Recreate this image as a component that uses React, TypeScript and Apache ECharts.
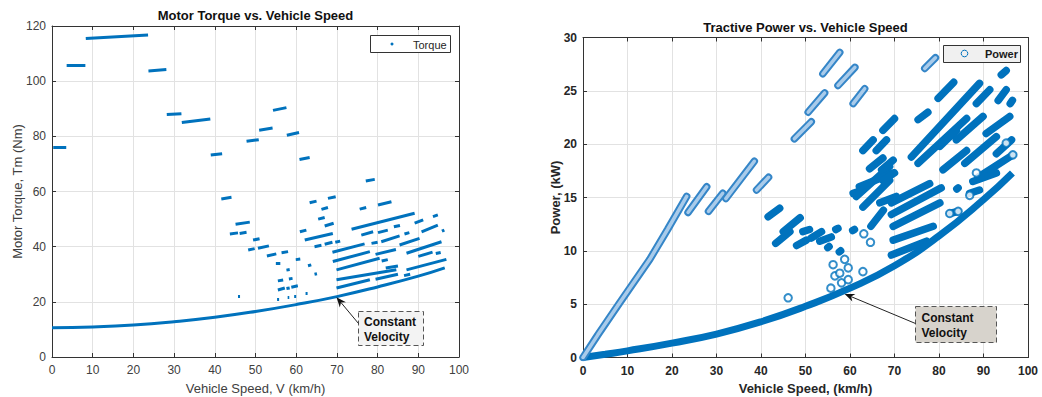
import React, { useEffect, useRef } from "react";
import * as echarts from "echarts";

// ---------------- DATA ----------------
// Left chart: motor torque (Nm) vs vehicle speed (km/h)
const torqueCurve: [number, number][] = [
  [0, 10.6], [10, 10.9], [20, 11.6], [30, 12.8], [40, 14.4], [50, 16.5],
  [60, 19.0], [70, 21.9], [80, 25.4], [90, 29.3], [96.5, 32.3],
];
// segments: [v1, T1, v2, T2]
const torqueSegments: [number, number, number, number][] = [
  [0.3, 76.2, 3.5, 76.2], [3.6, 105.7, 8.2, 105.7], [8.3, 115.5, 23.6, 116.7],
  [23.7, 103.7, 28.1, 104.2], [28.2, 87.9, 31.8, 88.2], [31.9, 85.0, 38.9, 86.3],
  [39.0, 73.2, 41.8, 73.7], [47.8, 78.2, 50.8, 78.8], [50.9, 82.2, 54.2, 83.0],
  [54.3, 89.4, 57.6, 90.4], [57.7, 80.4, 60.7, 81.4], [60.8, 71.6, 63.3, 72.3],
  [77.1, 63.8, 79.3, 64.4],
  [41.6, 57.3, 44.1, 57.9], [45.1, 48.1, 48.6, 48.9], [43.7, 44.6, 45.7, 45.0],
  [46.1, 44.8, 47.8, 45.2], [49.4, 42.4, 51.0, 42.9], [48.2, 38.8, 49.8, 39.3],
  [50.6, 39.4, 53.3, 40.3], [52.8, 36.6, 55.1, 37.4], [56.4, 37.8, 58.0, 38.2],
  [55.0, 34.0, 56.1, 34.1], [59.9, 35.3, 61.0, 35.5], [57.6, 31.5, 58.4, 31.7],
  [55.5, 27.6, 56.8, 27.9], [58.2, 28.3, 59.1, 28.5], [55.5, 24.3, 57.2, 25.0],
  [57.6, 24.8, 58.4, 25.0], [58.8, 25.3, 60.4, 25.8], [55.3, 21.0, 55.8, 21.1],
  [57.9, 21.5, 58.3, 21.6], [59.5, 21.9, 60.0, 22.0], [45.7, 22.1, 46.2, 22.2],
  [60.9, 45.4, 62.5, 46.0], [62.1, 42.4, 69.0, 44.8], [62.9, 33.1, 63.7, 33.4],
  [64.5, 30.0, 65.1, 30.2], [62.3, 23.0, 62.8, 23.1], [65.4, 50.0, 67.0, 50.6],
  [63.3, 55.9, 65.0, 56.5], [66.2, 53.5, 67.8, 54.2], [67.8, 57.5, 69.7, 58.1],
  [67.0, 47.5, 69.2, 48.5], [64.5, 40.0, 66.2, 40.5], [67.0, 40.9, 68.9, 41.6],
  [69.6, 41.6, 70.8, 42.0], [68.9, 38.0, 76.8, 41.0], [73.6, 46.3, 89.1, 52.1],
  [75.6, 53.6, 77.2, 54.2], [80.1, 55.1, 83.4, 56.3], [89.1, 48.5, 91.2, 49.7],
  [93.6, 50.9, 94.8, 51.5], [76.0, 44.2, 78.9, 45.4], [80.1, 45.1, 82.5, 46.0],
  [84.0, 47.2, 85.5, 47.7], [80.9, 41.8, 85.4, 43.9], [86.6, 44.6, 87.8, 45.1],
  [85.4, 40.6, 90.3, 43.0], [90.8, 45.4, 94.8, 47.8], [95.8, 45.6, 96.4, 46.0],
  [78.5, 41.2, 80.0, 41.6], [87.1, 37.6, 95.7, 41.8], [69.0, 34.6, 78.1, 38.2],
  [79.5, 37.2, 84.5, 39.0], [81.0, 34.8, 82.5, 35.3], [90.0, 36.5, 93.5, 38.0],
  [94.3, 37.5, 95.5, 37.9], [69.9, 31.6, 80.5, 35.8], [82.0, 32.3, 85.0, 33.0],
  [87.1, 31.6, 96.9, 35.4], [69.9, 28.0, 84.6, 31.6], [69.9, 25.0, 78.1, 28.0],
  [79.5, 28.2, 85.0, 30.0], [86.5, 29.5, 88.0, 30.0],
];

// Right chart: tractive power (kW) vs vehicle speed (km/h)
const powerCurve: [number, number][] = [
  [0, 0], [5, 0.3], [10, 0.62], [20, 1.35], [30, 2.2], [40, 3.35], [50, 4.8],
  [60, 6.5], [70, 8.6], [80, 11.4], [90, 14.8], [96.5, 17.3],
];
const powerChain: [number, number][] = [
  [0, 0], [3.3, 2.1], [8.2, 5.1], [15, 9.2], [19, 12.0], [23.3, 15.1],
];
const powerSparseSegments: [number, number, number, number][] = [
  [23.6, 13.6, 27.8, 16.0], [28.2, 13.7, 31.4, 15.4], [32.1, 14.9, 38.5, 18.4],
  [39.0, 15.7, 41.7, 16.9], [47.5, 20.5, 51.3, 22.1], [50.6, 23.0, 54.3, 24.8],
  [53.9, 26.6, 57.7, 28.6], [57.3, 25.5, 61.1, 27.2], [60.7, 23.8, 63.3, 25.2],
  [76.8, 27.1, 79.2, 28.1],
];
const powerDenseSegments: [number, number, number, number][] = [
  [41.6, 13.2, 44.2, 14.0], [43.3, 10.7, 46.5, 11.8], [45.0, 11.8, 48.8, 13.1],
  [48.0, 10.5, 50.2, 11.0], [49.4, 11.8, 50.9, 12.0], [51.3, 11.2, 53.6, 11.8],
  [53.2, 10.9, 55.8, 11.3], [55.0, 10.3, 55.3, 10.4], [56.8, 12.0, 57.3, 12.1],
  [57.6, 9.9, 57.9, 10.0], [60.6, 11.9, 61.0, 12.0],
  [60.7, 15.4, 62.9, 15.7], [62.9, 19.4, 65.2, 20.4], [65.9, 19.4, 68.2, 20.4],
  [64.4, 17.7, 67.4, 18.7], [67.1, 17.6, 69.7, 18.5], [61.4, 15.1, 68.9, 17.9],
  [62.9, 14.1, 68.9, 16.6], [64.7, 12.3, 67.5, 13.8], [67.4, 21.3, 70.0, 22.4],
  [75.3, 22.3, 77.5, 23.0], [79.8, 24.3, 83.3, 25.8], [73.8, 18.8, 89.1, 25.7],
  [75.3, 18.2, 86.2, 22.4], [88.4, 23.8, 91.4, 25.1], [93.3, 24.1, 95.1, 25.1],
  [94.0, 26.5, 95.1, 26.9], [96.0, 23.8, 96.5, 24.1], [80.2, 19.8, 83.9, 21.3],
  [83.9, 20.4, 89.9, 22.6], [90.6, 21.0, 95.9, 22.6], [80.9, 17.6, 86.2, 19.4],
  [85.8, 18.2, 92.9, 20.7], [92.9, 19.1, 96.3, 20.4], [88.8, 16.9, 96.6, 19.0],
  [62.1, 16.0, 69.7, 17.3], [69.3, 14.5, 77.9, 16.3], [69.3, 13.4, 80.5, 15.9],
  [69.7, 12.3, 80.2, 14.5], [69.7, 11.0, 78.7, 12.3], [69.3, 9.6, 77.2, 10.9],
  [82.4, 13.5, 84.3, 13.7], [84.0, 15.8, 84.3, 15.9], [86.9, 15.4, 89.1, 15.7],
  [87.6, 16.5, 92.9, 17.3], [66.7, 14.5, 70.4, 15.1], [67.4, 16.6, 70.0, 17.3],
];
const powerPoints: [number, number][] = [
  [56.2, 8.7], [58.8, 9.2], [56.6, 7.65], [57.7, 7.9], [59.6, 8.4], [58.1, 7.0],
  [59.6, 7.3], [55.7, 6.5], [62.9, 8.05], [46.1, 5.6], [63.1, 11.6], [64.6, 10.8],
  [82.4, 13.5], [84.3, 13.7], [86.9, 15.2], [95.1, 20.1], [96.6, 19.0], [88.4, 17.3],
];

// Axis ticks
const speedTicks = { min: 0, max: 100, interval: 10 };
const torqueTicks = { min: 0, max: 120, interval: 20 };
const powerTicks = { min: 0, max: 30, interval: 5 };

// Texts
const leftTitle = "Motor Torque vs. Vehicle Speed";
const rightTitle = "Tractive Power vs. Vehicle Speed";
const leftXName = "Vehicle Speed, V (km/h)";
const leftYName = "Motor Torque, Tm (Nm)";
const rightXName = "Vehicle Speed, (km/h)";
const rightYName = "Power, (kW)";
const annotationLines = ["Constant", "Velocity"];
const leftArrowTarget: [number, number] = [69.9, 21.7];
const rightArrowTarget: [number, number] = [58.8, 5.96];

// ---------------- STYLE ----------------
const BLUE = "#0072BD";
const CHAIN_OUTER = "#3586c8";
const CHAIN_INNER = "#a9cbea";
const FONT = "'Liberation Sans', Arial, Helvetica, sans-serif";
const GRID_LINE = "#e2e2e2";
const AXIS_COLOR = "#333333";

function makeAxis(
  gridIndex: number,
  ticks: { min: number; max: number; interval: number },
  position: string,
  showLabel: boolean,
  bold: boolean,
  labelColor: string,
  margin: number
) {
  return {
    type: "value",
    gridIndex,
    position,
    min: ticks.min,
    max: ticks.max,
    interval: ticks.interval,
    axisLine: { show: true, onZero: false, lineStyle: { color: AXIS_COLOR, width: 1 } },
    axisTick: { show: true, inside: true, length: 4, lineStyle: { color: AXIS_COLOR } },
    axisLabel: {
      show: showLabel,
      margin,
      fontFamily: FONT,
      fontSize: 12,
      fontWeight: bold ? "bold" : "normal",
      color: labelColor,
    },
    splitLine: { show: showLabel, lineStyle: { color: GRID_LINE, width: 1 } },
  };
}

function arrowGraphics(from: number[], to: number[], id: string) {
  const dx = to[0] - from[0];
  const dy = to[1] - from[1];
  const len = Math.sqrt(dx * dx + dy * dy) || 1;
  const ux = dx / len;
  const uy = dy / len;
  const px = -uy;
  const py = ux;
  const L = 10;
  const W = 4;
  const back = [to[0] - ux * L, to[1] - uy * L];
  const notch = [to[0] - ux * (L - 3), to[1] - uy * (L - 3)];
  return [
    {
      type: "line",
      id: id + "-line",
      shape: { x1: from[0], y1: from[1], x2: notch[0], y2: notch[1] },
      style: { stroke: "#222", lineWidth: 1 },
      z: 100,
    },
    {
      type: "polygon",
      id: id + "-head",
      shape: {
        points: [
          [to[0], to[1]],
          [back[0] + px * W, back[1] + py * W],
          notch,
          [back[0] - px * W, back[1] - py * W],
        ],
      },
      style: { fill: "#111" },
      z: 100,
    },
  ];
}

export default function App() {
  const ref = useRef<HTMLDivElement>(null);

  useEffect(() => {
    if (!ref.current) return;
    const chart = echarts.init(ref.current, undefined, { renderer: "svg" });

    const segToData = (segs: [number, number, number, number][]) =>
      segs.map((s) => ({ coords: [[s[0], s[1]], [s[2], s[3]]] }));

    const option: any = {
      animation: false,
      backgroundColor: "#ffffff",
      grid: [
        { left: 52, top: 26, width: 407, height: 331, containLabel: false },
        { left: 583, top: 37.5, width: 445, height: 320, containLabel: false },
      ],
      xAxis: [
        makeAxis(0, speedTicks, "bottom", true, false, "#404040", 7),
        makeAxis(0, speedTicks, "top", false, false, "#404040", 7),
        makeAxis(1, speedTicks, "bottom", true, true, "#262626", 7),
        makeAxis(1, speedTicks, "top", false, true, "#262626", 7),
      ],
      yAxis: [
        makeAxis(0, torqueTicks, "left", true, false, "#404040", 6),
        makeAxis(0, torqueTicks, "right", false, false, "#404040", 6),
        makeAxis(1, powerTicks, "left", true, true, "#262626", 6),
        makeAxis(1, powerTicks, "right", false, true, "#262626", 6),
      ],
      series: [
        {
          name: "Torque",
          type: "lines",
          coordinateSystem: "cartesian2d",
          xAxisIndex: 0,
          yAxisIndex: 0,
          lineStyle: { color: BLUE, width: 3, opacity: 1 },
          data: segToData(torqueSegments),
          z: 3,
        },
        {
          name: "TorqueCurve",
          type: "line",
          xAxisIndex: 0,
          yAxisIndex: 0,
          smooth: true,
          showSymbol: false,
          lineStyle: { color: BLUE, width: 3 },
          data: torqueCurve,
          z: 3,
        },
        {
          name: "PowerCurve",
          type: "line",
          xAxisIndex: 2,
          yAxisIndex: 2,
          smooth: true,
          showSymbol: false,
          lineStyle: { color: BLUE, width: 7 },
          data: powerCurve,
          z: 3,
        },
        {
          name: "PowerChainOuter",
          type: "line",
          xAxisIndex: 2,
          yAxisIndex: 2,
          showSymbol: false,
          lineStyle: { color: CHAIN_OUTER, width: 7.5, cap: "round" },
          data: powerChain,
          z: 3,
        },
        {
          name: "PowerChainInner",
          type: "line",
          xAxisIndex: 2,
          yAxisIndex: 2,
          showSymbol: false,
          lineStyle: { color: CHAIN_INNER, width: 3.5, cap: "round" },
          data: powerChain,
          z: 4,
        },
        {
          name: "PowerSparseOuter",
          type: "lines",
          coordinateSystem: "cartesian2d",
          xAxisIndex: 2,
          yAxisIndex: 2,
          lineStyle: { color: CHAIN_OUTER, width: 7.5, cap: "round", opacity: 1 },
          data: segToData(powerSparseSegments),
          z: 3,
        },
        {
          name: "PowerSparseInner",
          type: "lines",
          coordinateSystem: "cartesian2d",
          xAxisIndex: 2,
          yAxisIndex: 2,
          lineStyle: { color: CHAIN_INNER, width: 3.5, cap: "round", opacity: 1 },
          data: segToData(powerSparseSegments),
          z: 4,
        },
        {
          name: "PowerDense",
          type: "lines",
          coordinateSystem: "cartesian2d",
          xAxisIndex: 2,
          yAxisIndex: 2,
          lineStyle: { color: BLUE, width: 7.5, cap: "round", opacity: 1 },
          data: segToData(powerDenseSegments),
          z: 3,
        },
        {
          name: "PowerPoints",
          type: "scatter",
          xAxisIndex: 2,
          yAxisIndex: 2,
          symbol: "emptyCircle",
          symbolSize: 7.5,
          itemStyle: { color: BLUE, borderColor: BLUE, borderWidth: 1.6 },
          data: powerPoints,
          z: 5,
        },
      ],
      graphic: [
        // titles
        {
          type: "text", x: 255.5, y: 15,
          style: { text: leftTitle, font: `bold 13px ${FONT}`, fill: "#111", align: "center", verticalAlign: "middle" },
        },
        {
          type: "text", x: 805.5, y: 27,
          style: { text: rightTitle, font: `bold 13px ${FONT}`, fill: "#111", align: "center", verticalAlign: "middle" },
        },
        // axis names
        {
          type: "text", x: 255.5, y: 388,
          style: { text: leftXName, font: `13px ${FONT}`, fill: "#404040", align: "center", verticalAlign: "middle" },
        },
        {
          type: "text", x: 17, y: 191.5, rotation: Math.PI / 2,
          style: { text: leftYName, font: `13px ${FONT}`, fill: "#404040", align: "center", verticalAlign: "middle" },
        },
        {
          type: "text", x: 805.5, y: 388,
          style: { text: rightXName, font: `bold 13px ${FONT}`, fill: "#262626", align: "center", verticalAlign: "middle" },
        },
        {
          type: "text", x: 555, y: 197.5, rotation: Math.PI / 2,
          style: { text: rightYName, font: `bold 13px ${FONT}`, fill: "#262626", align: "center", verticalAlign: "middle" },
        },
        // left legend
        {
          type: "rect", shape: { x: 370.5, y: 35.5, width: 80, height: 17 },
          style: { fill: "#ffffff", stroke: "#333", lineWidth: 1 }, z: 50,
        },
        {
          type: "circle", shape: { cx: 392, cy: 44, r: 1.5 },
          style: { fill: BLUE }, z: 51,
        },
        {
          type: "text", x: 413, y: 44.5,
          style: { text: "Torque", font: `11px ${FONT}`, fill: "#262626", align: "left", verticalAlign: "middle" }, z: 51,
        },
        // right legend
        {
          type: "rect", shape: { x: 943.5, y: 45.5, width: 77, height: 17 },
          style: { fill: "#f0f0f0", stroke: "#333", lineWidth: 1 }, z: 50,
        },
        {
          type: "circle", shape: { cx: 964.5, cy: 53.5, r: 3.3 },
          style: { fill: "none", stroke: BLUE, lineWidth: 1 }, z: 51,
        },
        {
          type: "text", x: 985, y: 54,
          style: { text: "Power", font: `bold 11px ${FONT}`, fill: "#1a1a1a", align: "left", verticalAlign: "middle" }, z: 51,
        },
        // left annotation box
        {
          type: "rect", shape: { x: 358.5, y: 311.5, width: 65, height: 34 },
          style: { fill: "#f3f3f3", stroke: "#555", lineWidth: 1, lineDash: [5, 3] }, z: 60,
        },
        {
          type: "text", x: 364, y: 322,
          style: { text: annotationLines[0], font: `bold 12px ${FONT}`, fill: "#111", align: "left", verticalAlign: "middle" }, z: 61,
        },
        {
          type: "text", x: 364, y: 337,
          style: { text: annotationLines[1], font: `bold 12px ${FONT}`, fill: "#111", align: "left", verticalAlign: "middle" }, z: 61,
        },
        // right annotation box
        {
          type: "rect", shape: { x: 915.5, y: 306.5, width: 81, height: 36 },
          style: { fill: "#d7d3cc", stroke: "#555", lineWidth: 1, lineDash: [5, 3] }, z: 60,
        },
        {
          type: "text", x: 921.5, y: 318,
          style: { text: annotationLines[0], font: `bold 12px ${FONT}`, fill: "#111", align: "left", verticalAlign: "middle" }, z: 61,
        },
        {
          type: "text", x: 921.5, y: 332.5,
          style: { text: annotationLines[1], font: `bold 12px ${FONT}`, fill: "#111", align: "left", verticalAlign: "middle" }, z: 61,
        },
      ],
    };

    chart.setOption(option);

    const lt = chart.convertToPixel({ xAxisIndex: 0, yAxisIndex: 0 } as any, leftArrowTarget) as number[];
    const rt = chart.convertToPixel({ xAxisIndex: 2, yAxisIndex: 2 } as any, rightArrowTarget) as number[];
    const extra = [
      ...arrowGraphics([358.5, 323.5], lt, "la"),
      ...arrowGraphics([915.5, 323.5], rt, "ra"),
    ];
    chart.setOption({ graphic: [...option.graphic, ...extra] }, { replaceMerge: ["graphic"] } as any);

    return () => {
      chart.dispose();
    };
  }, []);

  return (
    <div
      ref={ref}
      style={{ position: "absolute", left: 0, top: 0, width: 1042, height: 397 }}
    />
  );
}
